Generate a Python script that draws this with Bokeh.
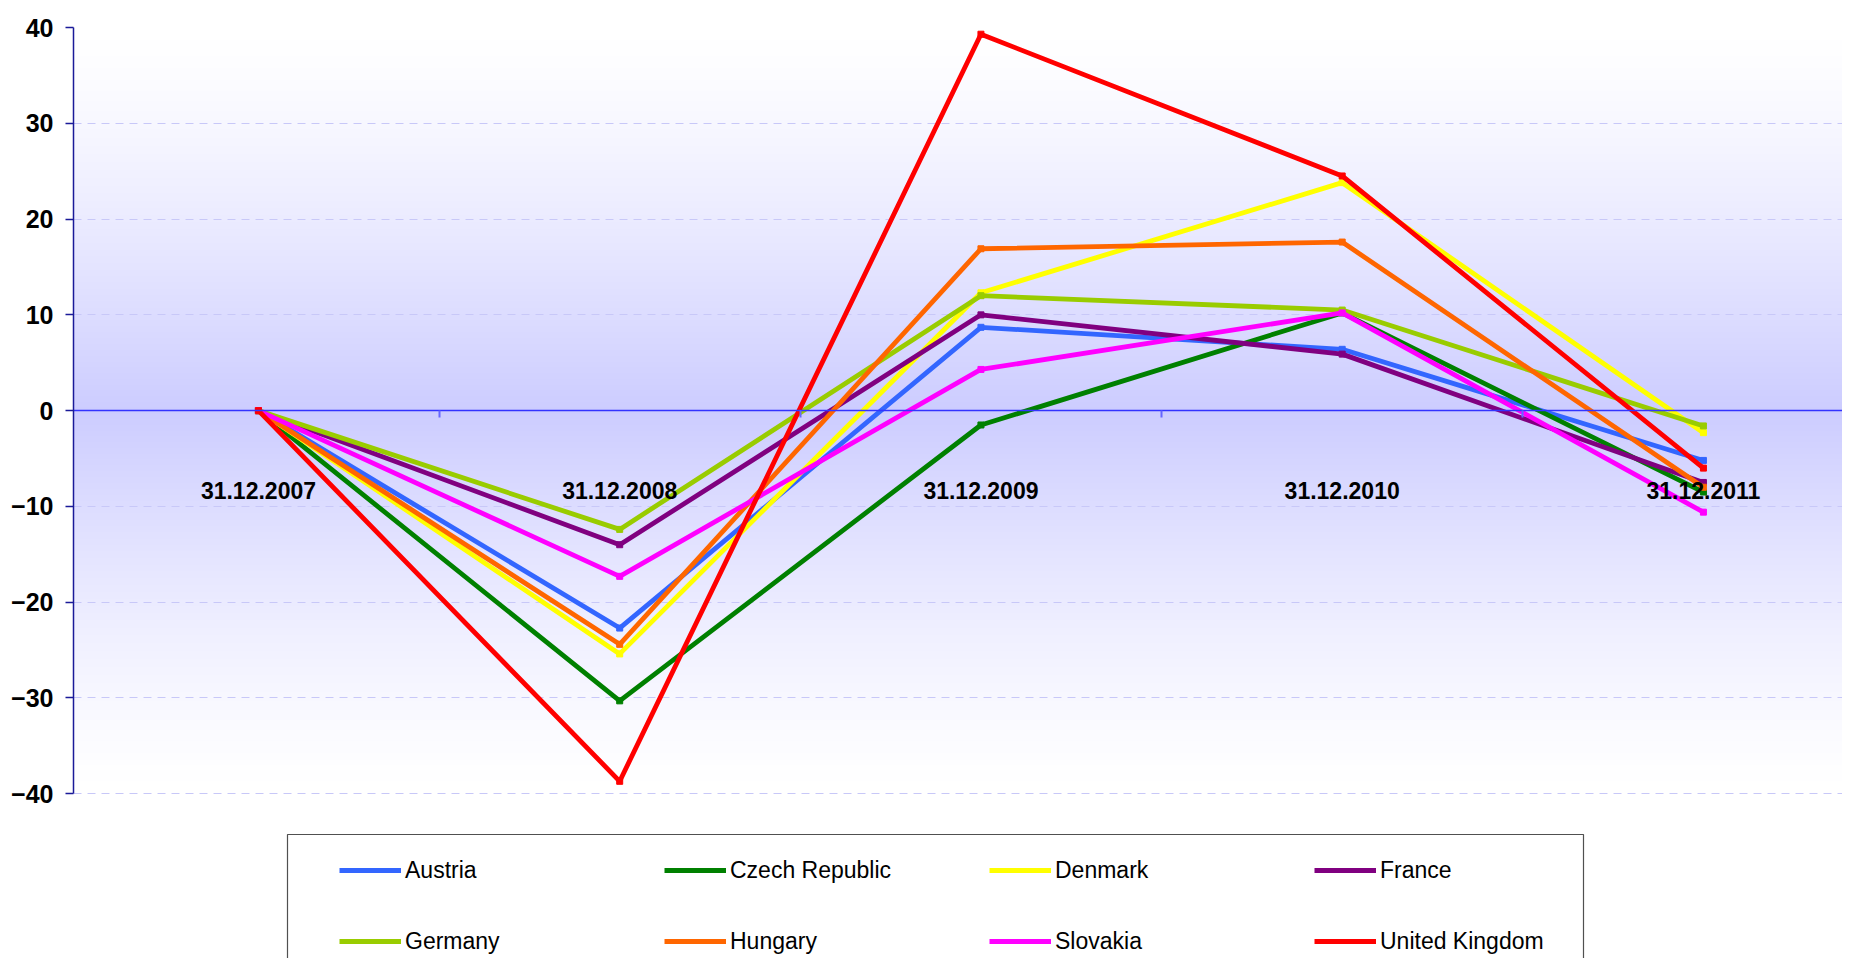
import numpy as np
from bokeh.plotting import figure
from bokeh.models import (Range1d, FixedTicker, Legend, LegendItem, BoxAnnotation,
                          LinearAxis, Grid)
from bokeh.embed import file_html
from bokeh.resources import INLINE

# ---- data ----
categories = ["31.12.2007", "31.12.2008", "31.12.2009", "31.12.2010", "31.12.2011"]
austria = [0, -22.7, 8.7, 6.4, -5.2]
czech_republic = [0, -30.3, -1.5, 10.2, -8.5]
denmark = [0, -25.4, 12.3, 23.8, -2.3]
france = [0, -14.0, 10.0, 5.9, -7.5]
germany = [0, -12.4, 12.0, 10.5, -1.6]
hungary = [0, -24.4, 16.9, 17.6, -8.0]
slovakia = [0, -17.3, 4.3, 10.2, -10.6]
united_kingdom = [0, -38.7, 39.3, 24.5, -6.0]
y_ticks = [-40, -30, -20, -10, 0, 10, 20, 30, 40]

series_names = ["Austria", "Czech Republic", "Denmark", "France",
                "Germany", "Hungary", "Slovakia", "United Kingdom"]
series_values = [austria, czech_republic, denmark, france,
                 germany, hungary, slovakia, united_kingdom]
series_colors = ["#3366FF", "#008000", "#FFFF00", "#800080",
                 "#99CC00", "#FF6600", "#FF00FF", "#FF0000"]

FONT = "'Liberation Sans Narrow', 'Arial Narrow', 'Liberation Sans', sans-serif"

x_idx = list(range(len(categories)))
x0, x1 = -0.512, 4.385
y0, y1 = -57.2, 40

p = figure(width=1842, height=958, x_range=Range1d(x0, x1), y_range=Range1d(y0, y1),
           output_backend="svg", toolbar_location=None,
           x_axis_type=None, y_axis_type=None,
           min_border_left=73, min_border_right=0, min_border_top=27, min_border_bottom=0)
p.outline_line_color = None
p.background_fill_color = "white"
p.border_fill_color = "white"

# ---- gradient plot-area background ----
N = 766
ys = np.linspace(y_ticks[0], y_ticks[-1], N)
t = (1 - np.abs(ys) / y_ticks[-1]) ** 1.35
img = np.empty((N, 1), dtype=np.uint32)
view = img.view(dtype=np.uint8).reshape((N, 1, 4))
view[:, 0, 0] = np.round(255 - 51 * t).astype(np.uint8)
view[:, 0, 1] = np.round(255 - 51 * t).astype(np.uint8)
view[:, 0, 2] = 255
view[:, 0, 3] = 255
p.image_rgba(image=[img], x=x0, y=y_ticks[0], dw=x1 - x0, dh=y_ticks[-1] - y_ticks[0],
             level="image")

# ---- grid ----
grid = Grid(dimension=1, ticker=FixedTicker(ticks=y_ticks),
            grid_line_color="#C8C8F8", grid_line_dash="8 6", grid_line_width=1)
p.add_layout(grid)

# ---- axes ----
yaxis = LinearAxis(ticker=FixedTicker(ticks=y_ticks), bounds=(y_ticks[0], y_ticks[-1]))
yaxis.axis_line_color = "#1A1A99"
yaxis.axis_line_width = 1.5
yaxis.major_tick_line_color = "#1A1A99"
yaxis.major_tick_line_width = 1.5
yaxis.major_tick_out = 8
yaxis.major_tick_in = 0
yaxis.minor_tick_out = 0
yaxis.minor_tick_in = 0
yaxis.major_label_standoff = 12
yaxis.major_label_text_font = FONT
yaxis.major_label_text_font_style = "bold"
yaxis.major_label_text_font_size = "25px"
yaxis.major_label_text_color = "black"
p.add_layout(yaxis, "left")

xaxis = LinearAxis(fixed_location=0,
                   ticker=FixedTicker(ticks=x_idx,
                                      minor_ticks=[i + 0.5 for i in x_idx[:-1]]))
xaxis.major_label_overrides = {i: c for i, c in zip(x_idx, categories)}
xaxis.axis_line_color = "#3333FF"
xaxis.axis_line_width = 1.5
xaxis.major_tick_out = 0
xaxis.major_tick_in = 0
xaxis.minor_tick_out = 7
xaxis.minor_tick_in = 0
xaxis.minor_tick_line_color = "#6666FF"
xaxis.minor_tick_line_width = 2
xaxis.major_label_standoff = 64
xaxis.major_label_text_font = FONT
xaxis.major_label_text_font_style = "bold"
xaxis.major_label_text_font_size = "23px"
xaxis.major_label_text_color = "black"
p.add_layout(xaxis, "below")

# ---- series ----
items = []
for name, vals, col in zip(series_names, series_values, series_colors):
    r_line = p.line(x_idx, vals, line_width=4.8, line_color=col)
    p.scatter(x_idx, vals, marker="square", size=6, fill_color=col, line_color=col)
    items.append(LegendItem(label=name, renderers=[r_line]))

legend = Legend(items=items, location=(266, 2), ncols=4, orientation="horizontal",
                glyph_width=62, glyph_height=30, label_height=30, label_width=218,
                label_standoff=4, spacing=41, padding=0, margin=0,
                border_line_alpha=0, background_fill_alpha=0,
                label_text_font=FONT, label_text_font_size="23px",
                label_text_color="black")
p.add_layout(legend)

legend_box = BoxAnnotation(left=214, right=1510, top=124, bottom=-30,
                           left_units="screen", right_units="screen",
                           top_units="screen", bottom_units="screen",
                           fill_alpha=0, line_color="#505050", line_width=1.2,
                           line_alpha=1)
p.add_layout(legend_box)

open("out.html", "w").write(file_html(p, INLINE))
